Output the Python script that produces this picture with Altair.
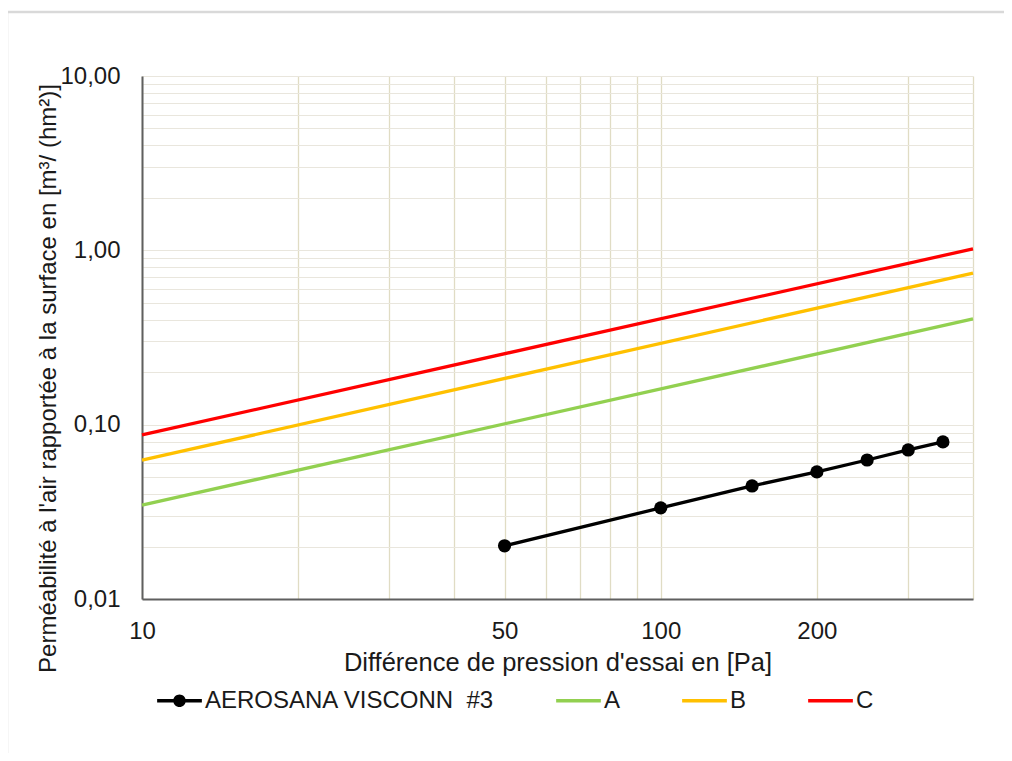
import altair as alt
import pandas as pd

# ---- data ----
pressure = [50, 100, 150, 200, 250, 300, 350]
aerosana = [0.0202, 0.0333, 0.0445, 0.0536, 0.0627, 0.0716, 0.0796]

class_pressure = [10, 400]
class_a = [0.0346, 0.404]
class_b = [0.0626, 0.741]
class_c = [0.0873, 1.02]

# non-breaking space keeps the double space of the original label
series_names = ["AEROSANA VISCONN \u00a0#3", "A", "B", "C"]
series_colors = ["#000000", "#92D050", "#FFC000", "#FF0000"]

x_grid = [10, 20, 30, 40, 50, 60, 70, 80, 90, 100, 200, 300, 400]
x_labels = [10, 50, 100, 200]
y_grid = [m * d for d in [0.01, 0.1, 1] for m in range(1, 10)] + [10]
y_labels = [0.01, 0.1, 1, 10]

FONT = "Liberation Sans"
TXT = "#1a1a1a"

rows = []
for name, vals in [("A", class_a), ("B", class_b), ("C", class_c)]:
    for p, v in zip(class_pressure, vals):
        rows.append({"series": name, "p": p, "v": v})
df_classes = pd.DataFrame(rows)
df_meas = pd.DataFrame({"series": series_names[0], "p": pressure, "v": aerosana})
df_legend = pd.DataFrame({"series": series_names, "p": [5] * 4, "v": [1] * 4})

xscale = alt.Scale(type="log", domain=[10, 400], nice=False)
yscale = alt.Scale(type="log", domain=[0.01, 10], nice=False)

x_lab_expr = "indexof(" + str(x_labels) + ", datum.value) >= 0 ? datum.label : ''"
y_lab_expr = ("indexof(" + str(y_labels) + ", datum.value) >= 0 ? "
              "replace(format(datum.value, '.2f'), '.', ',') : ''")

xaxis = alt.Axis(
    title="Différence de pression d'essai en [Pa]",
    values=x_grid, labelExpr=x_lab_expr, labelOverlap=False, labelFlush=False,
    ticks=False, tickSize=0, labelPadding=20,
    labelFontSize=24, labelFont=FONT, labelColor=TXT,
    titleFontSize=25.5, titleFont=FONT, titleFontWeight="normal", titleColor=TXT,
    titleY=63, titleBaseline="middle",
    grid=True, gridColor="#e0dcc4", gridWidth=1.3,
    domainColor="#5f5f5f", domainWidth=2,
)
yaxis = alt.Axis(
    title="Perméabilité à l'air rapportée à la surface en [m³/ (hm²)]",
    values=y_grid, labelExpr=y_lab_expr, labelOverlap=False, labelFlush=False,
    ticks=False, tickSize=0, labelPadding=22,
    labelFontSize=24, labelFont=FONT, labelColor=TXT,
    titleFontSize=24, titleFont=FONT, titleFontWeight="normal", titleColor=TXT,
    titleX=-94, titleY=302, titleAngle=-90, titleBaseline="middle", titleAlign="center",
    grid=True, gridColor="#e9e6dd", gridWidth=1.2,
    domainColor="#5f5f5f", domainWidth=2,
)

# line colours (domain in a different order so it never merges with the legend scale)
line_domain = ["A", "B", "C", series_names[0]]
line_range = ["#92D050", "#FFC000", "#FF0000", "#000000"]
stroke_scale = alt.Scale(domain=line_domain, range=line_range)

frame = alt.Chart(pd.DataFrame({"k": [0]})).mark_rect(
    fill=None, stroke="#d9d9d9", strokeWidth=2.5
).encode(
    x=alt.value(-135), x2=alt.value(900), y=alt.value(-64), y2=alt.value(720)
)

class_lines = alt.Chart(df_classes).mark_line(strokeWidth=3.3).encode(
    x=alt.X("p:Q", scale=xscale, axis=xaxis),
    y=alt.Y("v:Q", scale=yscale, axis=yaxis),
    stroke=alt.Stroke("series:N", scale=stroke_scale, legend=None),
    detail="series:N",
)

meas_line = alt.Chart(df_meas).mark_line(strokeWidth=3.3).encode(
    x=alt.X("p:Q", scale=xscale),
    y=alt.Y("v:Q", scale=yscale),
    stroke=alt.Stroke("series:N", scale=stroke_scale, legend=None),
)

meas_pts = alt.Chart(df_meas).mark_point(filled=True, opacity=1, size=175, color="black").encode(
    x=alt.X("p:Q", scale=xscale),
    y=alt.Y("v:Q", scale=yscale),
)

line_path = "M-1,-0.075L1,-0.075L1,0.075L-1,0.075Z"
dot_path = line_path + "M-0.28,0A0.28,0.28 0 1,1 0.28,0A0.28,0.28 0 1,1 -0.28,0Z"
shape_range = [dot_path, line_path, line_path, line_path]

legend_kw = dict(
    title=None, orient="none", legendX=15, legendY=602, direction="horizontal",
    symbolSize=2000, symbolStrokeWidth=0, labelFontSize=24, labelFont=FONT,
    labelColor=TXT, labelLimit=0, labelOffset=3, columnPadding=61,
    symbolOpacity=1,
)

legend_layer = alt.Chart(df_legend).mark_point(filled=True, opacity=1, clip=True).encode(
    x=alt.X("p:Q", scale=xscale),
    y=alt.Y("v:Q", scale=yscale),
    color=alt.Color("series:N", scale=alt.Scale(domain=series_names, range=series_colors),
                    legend=alt.Legend(**legend_kw)),
    shape=alt.Shape("series:N", scale=alt.Scale(domain=series_names, range=shape_range),
                    legend=alt.Legend(**legend_kw)),
)

chart = alt.layer(frame, class_lines, meas_line, meas_pts, legend_layer).properties(
    width=831, height=523,
    autosize=alt.AutoSizeParams(type="none"),
    padding={"left": 134, "top": 68, "right": 31, "bottom": 154},
    background="white",
).configure_view(stroke=None)

chart.save("out.html", embed_options={"renderer": "svg", "actions": False})
